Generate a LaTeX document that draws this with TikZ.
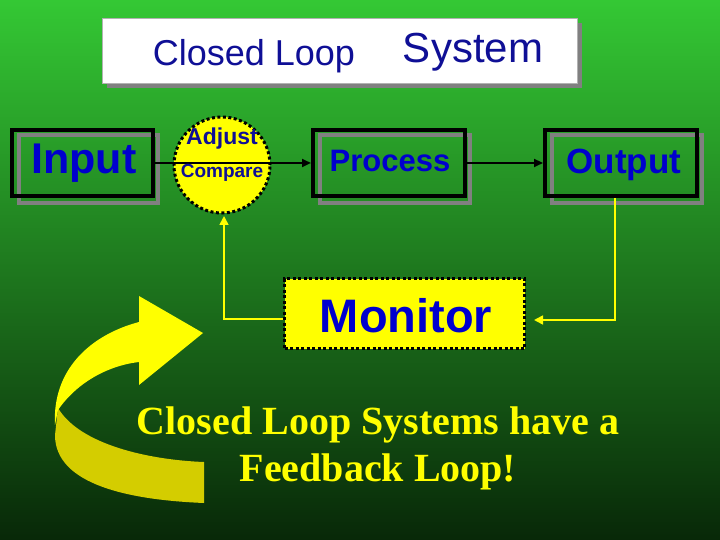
\documentclass[tikz,border=0pt]{standalone}
\usepackage{fontspec}
\setmainfont{Liberation Sans}
\newfontfamily\serifb{Liberation Serif}
\usetikzlibrary{arrows.meta}
\definecolor{tblue}{RGB}{0,0,205}
\definecolor{navy}{RGB}{15,15,150}
\definecolor{ylw}{RGB}{255,255,0}
\definecolor{dylw}{RGB}{212,205,0}
\definecolor{gtop}{RGB}{52,200,52}
\definecolor{gmid}{RGB}{36,140,36}
\definecolor{gbot}{RGB}{8,40,8}
\tikzset{
 blk/.style={draw=black,line width=4pt,minimum height=66pt,inner sep=0pt},
 shd/.style={draw=gray,line width=4pt},
 lbl/.style={text=tblue},
 fb/.style={draw=ylw,line width=1.6pt,-{Triangle[length=9pt,width=9pt]}},
 fwd/.style={draw=black,line width=2.5pt,-{Triangle[length=9pt,width=8pt]}}
}
\begin{document}
\begin{tikzpicture}[x=1pt,y=-1pt]
\useasboundingbox (0,0) rectangle (720,540);
\shade[top color=gtop,middle color=gmid,bottom color=gbot] (0,0) rectangle (720,540);
% title
\fill[gray] (107,23) rectangle (582,88);
\node[draw=gray!60,fill=white,minimum width=475pt,minimum height=65pt,inner sep=0pt] (title) at (339.5,50.5) {};
\node[text=navy,font=\fontsize{36}{36}\selectfont,anchor=base] (t1) at (254,66) {Closed Loop};
\node[text=navy,font=\fontsize{42}{42}\selectfont,anchor=base] (t2) at (473,63) {System};
% shadows
\draw[shd] (19,135) rectangle (158,203);
\draw[shd] (320,135) rectangle (470,203);
\draw[shd] (552,135) rectangle (702,203);
\node[blk,minimum width=141pt] (in) at (82.5,163) {};
\node[lbl,font=\bfseries\fontsize{43}{43}\selectfont] (intext) at (84,163) {Input};
\node[blk,minimum width=152pt] (pr) at (389,163) {};
\node[lbl,font=\bfseries\fontsize{31}{31}\selectfont] (prtext) at (390,161) {Process};
\node[blk,minimum width=152pt] (out) at (621,163) {};
\node[lbl,font=\bfseries\fontsize{35}{35}\selectfont] (outtext) at (624,165) {Output};
% comparator
\node[circle,fill=ylw,draw=black,line width=3pt,dash pattern=on 3pt off 2.5pt,minimum size=96pt,inner sep=0pt] (cmp) at (222,165) {};
\draw[fwd] (in.east) -- (pr.west);
\draw[fwd] (pr.east) -- (out.west);
\node[text=navy,font=\bfseries\fontsize{23}{23}\selectfont] (adj) at (222,139) {Adjust};
\node[text=navy,font=\bfseries\fontsize{19}{19}\selectfont] (cmpt) at (222,173) {Compare};
% monitor
\node[fill=ylw,draw=black,line width=3.5pt,dash pattern=on 3pt off 2.5pt,minimum width=240pt,minimum height=70pt,inner sep=0pt] (mon) at (404.5,313.5) {};
\node[lbl,font=\bfseries\fontsize{47}{47}\selectfont] (montext) at (406,316) {Monitor};
% feedback
\coordinate (c1) at (615,320);
\coordinate (c1t) at (534,320);
\coordinate (c2) at (224,319);
\coordinate (c2t) at (224,216);
\draw[fb] (out.south -| c1) -- (c1) -- (c1t);
\draw[fb] (mon.west |- c2) -- (c2) -- (c2t);
% curved arrow
\fill[dylw] (58,408) .. controls (80,445) and (150,460) .. (204,462) -- (204,503) .. controls (130,500) and (55,485) .. (55,435) -- cycle;
\fill[ylw] (139,322) -- (139,296) -- (203,333) -- (139,385) -- (139,362) .. controls (105,366) and (75,385) .. (58,410) -- (55,425) .. controls (52,370) and (90,335) .. (139,322) -- cycle;
% caption
\node[text=ylw,font=\serifb\bfseries\fontsize{40}{47}\selectfont,align=center] (cap) at (378,448) {Closed Loop Systems have a\\Feedback Loop!};
\end{tikzpicture}
\end{document}
